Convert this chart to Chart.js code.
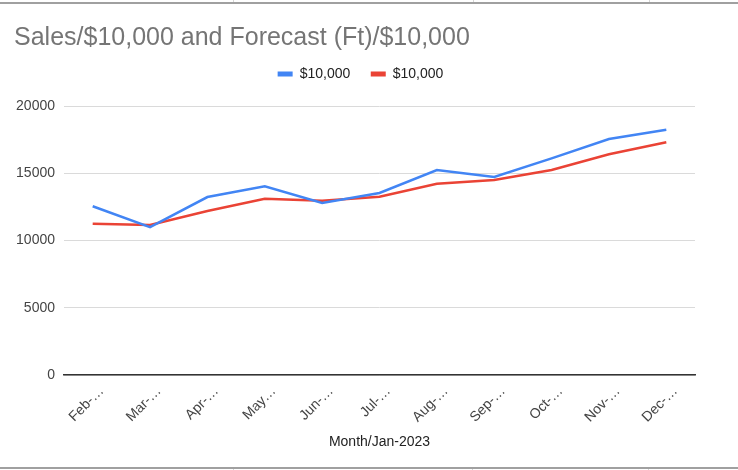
<!DOCTYPE html>
<html><head><meta charset="utf-8">
<script src="https://cdn.jsdelivr.net/npm/chart.js@4"></script>
<style>
html,body{margin:0;padding:0;background:#fff;}
#wrap{position:relative;width:738px;height:470px;overflow:hidden;background:#fff;}
#c{position:absolute;left:0;top:0;}
.hl{position:absolute;left:0;width:738px;height:2px;background:#a0a0a0;}
.vl{position:absolute;width:1px;background:#d6d6d6;}
</style></head><body>
<div id="wrap">
<canvas id="c" width="738" height="470"></canvas>
<div class="hl" style="top:2px"></div>
<div class="hl" style="top:467px"></div>
<div class="vl" style="left:233px;top:0;height:2px"></div>
<div class="vl" style="left:473px;top:0;height:2px"></div>
<div class="vl" style="left:649px;top:0;height:2px"></div>
<div class="vl" style="left:233px;top:469px;height:1px"></div>
<div class="vl" style="left:472px;top:469px;height:1px"></div>
<div class="vl" style="left:648px;top:469px;height:1px"></div>
</div>
<script>
const categories = ['Feb-…','Mar-…','Apr-…','May…','Jun-…','Jul-…','Aug-…','Sep-…','Oct-…','Nov-…','Dec-…'];
const salesValues = [12550, 11000, 13230, 14030, 12790, 13530, 15240, 14720, 16110, 17550, 18240];
const forecastValues = [11250, 11150, 12190, 13110, 12960, 13260, 14220, 14500, 15240, 16410, 17300];
const seriesNames = ['$10,000', '$10,000'];
const yTickValues = [0, 5000, 10000, 15000, 20000];
const chartTitle = 'Sales/$10,000 and Forecast (Ft)/$10,000';
const xAxisTitle = 'Month/Jan-2023';

Chart.defaults.font.family = "'Liberation Sans', Arial, sans-serif";

const legendSpacer = {
  id: 'legendSpacer',
  beforeInit(chart) {
    if (!chart.legend) return;
    const orig = chart.legend.fit;
    chart.legend.fit = function () { orig.call(this); this.height += 15; };
  }
};

new Chart(document.getElementById('c'), {
  type: 'line',
  data: {
    labels: categories,
    datasets: [
      { label: seriesNames[0], data: salesValues, borderColor: '#4285F4', backgroundColor: '#4285F4', borderWidth: 2.5, pointRadius: 0, tension: 0, fill: false },
      { label: seriesNames[1], data: forecastValues, borderColor: '#EA4335', backgroundColor: '#EA4335', borderWidth: 2.5, pointRadius: 0, tension: 0, fill: false }
    ]
  },
  options: {
    responsive: false,
    animation: false,
    layout: { padding: { left: 14, right: 31, top: 0, bottom: 0 } },
    plugins: {
      title: {
        display: true, text: chartTitle, align: 'start', color: '#757575',
        font: { size: 25, weight: 'normal', lineHeight: 0.68 },
        padding: { top: 29.5, bottom: 0 }
      },
      legend: {
        display: true, position: 'top', align: 'center',
        labels: {
          boxWidth: 15, boxHeight: 5, padding: 20.5, color: '#222', font: { size: 14 },
          generateLabels(chart) {
            return Chart.defaults.plugins.legend.labels.generateLabels(chart).map(l => Object.assign(l, { lineWidth: 0 }));
          }
        }
      },
      tooltip: { enabled: false }
    },
    scales: {
      x: {
        offset: true,
        grid: { display: false, drawTicks: false },
        border: { display: true, color: '#333', width: 1.5 },
        ticks: { color: '#444', font: { size: 14 }, maxRotation: 45, minRotation: 45, autoSkip: false, padding: 8, labelOffset: 9 },
        title: { display: true, text: xAxisTitle, color: '#222', font: { size: 14 }, padding: { top: 0, bottom: 19 } },
        afterFit(s) { s.height = 95; }
      },
      y: {
        min: 0, max: 20000,
        afterBuildTicks(s) { s.ticks = yTickValues.map(v => ({ value: v })); },
        ticks: { color: '#444', font: { size: 14 }, padding: 9, callback: v => String(v) },
        grid: { color: '#dadada', drawTicks: false, lineWidth: 1 },
        border: { display: false },
        afterFit(s) { s.width = 50; }
      },
      yr: {
        position: 'right', display: true,
        grid: { display: false, drawTicks: false },
        border: { display: false },
        ticks: { display: false },
        afterFit(s) { s.width = 12; }
      }
    }
  },
  plugins: [legendSpacer]
});
</script>
</body></html>
